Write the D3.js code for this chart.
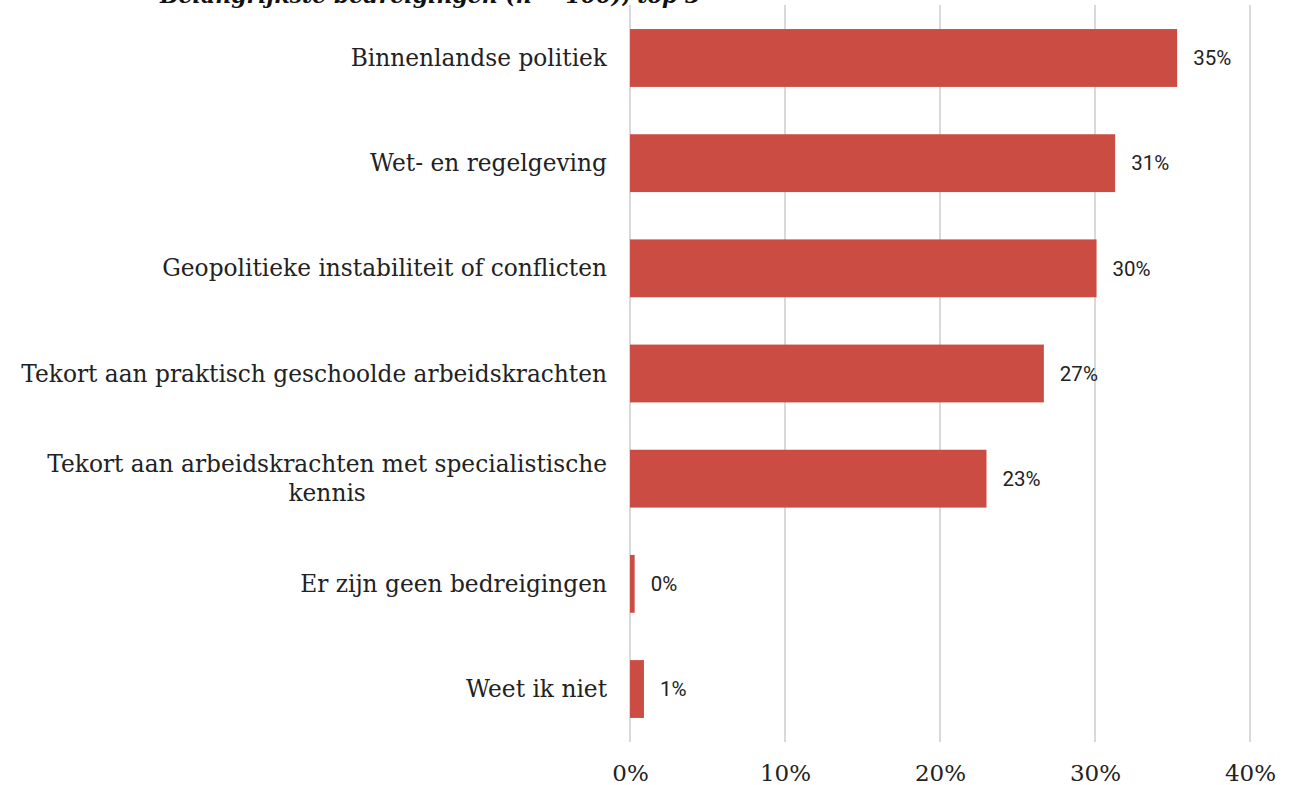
<!DOCTYPE html>
<html>
<head>
<meta charset="utf-8">
<script src="https://cdn.jsdelivr.net/npm/d3@7"></script>
<style>
  body { margin: 0; background: #fff; }
  svg { display: block; }
</style>
</head>
<body>
<svg id="chart"></svg>
<script>
const categories = [
    "Binnenlandse politiek",
    "Wet- en regelgeving",
    "Geopolitieke instabiliteit of conflicten",
    "Tekort aan praktisch geschoolde arbeidskrachten",
    "Tekort aan arbeidskrachten met specialistische kennis",
    "Er zijn geen bedreigingen",
    "Weet ik niet",
];
const values = [35.3, 31.3, 30.1, 26.7, 23.0, 0.3, 0.9];
const valueLabels = ["35%", "31%", "30%", "27%", "23%", "0%", "1%"];
const ticks = [0, 10, 20, 30, 40];
const title = "Belangrijkste bedreigingen (n = 100), top 3";

const width = 1304;
const height = 785;

let svg = d3.select("svg#chart").attr("width", width).attr("height", height);

let x = d3.scaleLinear().domain([0, 40]).range([630, 1250]);
let y = d3
    .scaleBand()
    .domain(categories)
    .range([5.4, 741.6])
    .paddingInner(0.45)
    .paddingOuter(0.225);

// title, mostly cut off by the top edge (as in the original)
svg.append("text")
    .attr("x", 160)
    .attr("y", 3)
    .attr("font-family", "DejaVu Serif")
    .attr("font-style", "italic")
    .attr("font-weight", "bold")
    .attr("font-size", 22)
    .attr("fill", "#111")
    .text(title);

// gridlines
svg.append("g")
    .selectAll("line")
    .data(ticks)
    .enter()
    .append("line")
    .attr("x1", (d) => x(d))
    .attr("x2", (d) => x(d))
    .attr("y1", 5)
    .attr("y2", 742)
    .attr("stroke", "#d9d9d9")
    .attr("stroke-width", 2);

// x axis labels
let xAxis = d3
    .axisBottom(x)
    .tickValues(ticks)
    .tickSize(0)
    .tickPadding(0)
    .tickFormat((d) => d + "%");

svg.append("g")
    .attr("transform", "translate(0,781)")
    .call(xAxis)
    .call((g) => g.select(".domain").remove())
    .selectAll("text")
    .attr("font-family", "DejaVu Serif")
    .attr("font-size", 23)
    .attr("fill", "#222")
    .attr("y", 0)
    .attr("dy", 0);

// bars
svg.append("g")
    .selectAll("rect")
    .data(categories)
    .enter()
    .append("rect")
    .attr("x", x(0))
    .attr("y", (d) => y(d))
    .attr("width", (d, i) => x(values[i]) - x(0))
    .attr("height", y.bandwidth())
    .attr("fill", "#cb4c43");

// value labels
svg.append("g")
    .selectAll("text")
    .data(categories)
    .enter()
    .append("text")
    .attr("x", (d, i) => x(values[i]) + 16)
    .attr("y", (d) => y(d) + y.bandwidth() / 2)
    .attr("dy", "0.35em")
    .attr("font-family", "Roboto")
    .attr("font-size", 20.5)
    .attr("fill", "#222")
    .text((d, i) => valueLabels[i]);

// category labels, wrapped if too wide
const maxLabelWidth = 592;
const labelRight = 607;
let labels = svg
    .append("g")
    .selectAll("text")
    .data(categories)
    .enter()
    .append("text")
    .attr("font-family", "DejaVu Serif")
    .attr("font-size", 23.3)
    .attr("fill", "#222");

labels.each(function (d) {
    let self = d3.select(this);
    let words = d.split(" ");
    let lines = [];
    let line = [];
    let probe = self.append("tspan");
    for (let w of words) {
        line.push(w);
        probe.text(line.join(" "));
        if (probe.node().getComputedTextLength() > maxLabelWidth && line.length > 1) {
            line.pop();
            lines.push(line.join(" "));
            line = [w];
        }
    }
    lines.push(line.join(" "));
    probe.remove();

    let cy = y(d) + y.bandwidth() / 2;
    let lh = 29;
    let spans = lines.map((l) => self.append("tspan").text(l));
    let widest = d3.max(spans, (s) => s.node().getComputedTextLength());
    let anchor = lines.length > 1 ? "middle" : "end";
    let ax = lines.length > 1 ? labelRight - widest / 2 : labelRight;
    spans.forEach((s, i) => {
        s.attr("x", ax)
            .attr("y", cy + (i - (lines.length - 1) / 2) * lh)
            .attr("dy", "0.35em")
            .attr("text-anchor", anchor);
    });
});
</script>
</body>
</html>
